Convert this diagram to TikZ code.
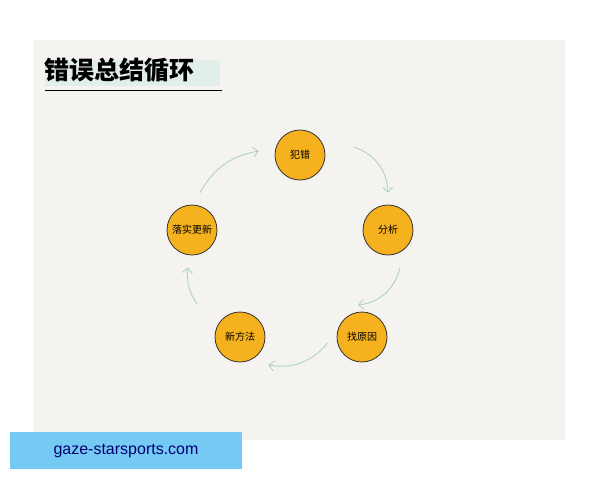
\documentclass[tikz,border=0pt]{standalone}
\usepackage{fontspec}
\newfontfamily\cjk{Noto Sans CJK SC}
\setsansfont{Liberation Sans}
\usetikzlibrary{arrows.meta}
\definecolor{paper}{HTML}{F4F3EF}
\definecolor{disc}{HTML}{F6B21E}
\definecolor{loopline}{HTML}{A9CFC2}
\definecolor{siteblue}{HTML}{74CAF2}
\tikzset{
	stepdisc/.style={circle, draw=black!80, line width=0.8pt, fill=disc,
		minimum size=50pt, inner sep=0pt, font=\cjk\fontsize{10}{10}\selectfont},
	loop/.style={draw=loopline, line width=0.8pt, -{Straight Barb[length=5pt]}}
}
\begin{document}
\begin{tikzpicture}[x=1pt, y=-1pt]
	\useasboundingbox (0,0) rectangle (600,480);
	% paper
	\fill[paper] (33,40) rectangle (565,440);
	% title
	\fill[loopline!35] (45,60) rectangle (220,86);
	\node[anchor=west, font=\cjk\bfseries\fontsize{25}{25}\selectfont] (title) at (41,70) {错误总结循环};
	\draw[line width=0.8pt] (45,90) -- (222,90);
	% steps
	\node[stepdisc] (err) at (300,155) {犯错};
	\node[stepdisc] (ana) at (388,230) {分析};
	\node[stepdisc] (cause) at (362,337) {找原因};
	\node[stepdisc] (method) at (240,337) {新方法};
	\node[stepdisc] (update) at (192,230) {落实更新};
	% loop arrows
	\draw[loop] ([shift={(28,-8)}]err.east) to[bend left=35] ([shift={(0,-12)}]ana.north);
	\draw[loop] ([shift={(12,12)}]ana.south) to[bend left=35] ([shift={(14,-14)}]cause.north west);
	\draw[loop] ([shift={(-9,6)}]cause.west) to[bend left=30] ([shift={(3,28)}]method.east);
	\draw[loop] ([shift={(-25,-15)}]method.north west) to[bend left=20] ([shift={(-4,12)}]update.south);
	\draw[loop] ([shift={(8,-12)}]update.north) to[bend left=25] ([shift={(-16,-4)}]err.west);
	% watermark
	\fill[siteblue] (10,432) rectangle (242,469);
	\node[font=\sffamily\fontsize{16}{16}\selectfont, text=blue!45!black] (site) at (126,451) {gaze-starsports.com};
\end{tikzpicture}
\end{document}
